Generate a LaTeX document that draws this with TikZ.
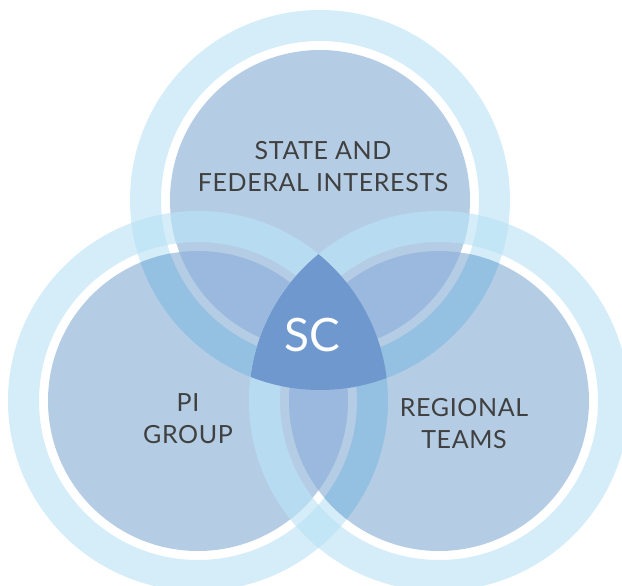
\documentclass[tikz,border=0pt]{standalone}
\usepackage{fontspec}
\setmainfont{Lato}

\definecolor{ringblue}{HTML}{D4EDF9}
\definecolor{diskblue}{HTML}{B5CDE4}
\definecolor{ringring}{HTML}{C3E6F7}
\definecolor{ringdisk}{HTML}{B7DCF1}
\definecolor{diskring}{HTML}{94C0E2}
\definecolor{diskdisk}{HTML}{9BB9DE}
\definecolor{scblue}{HTML}{6F98CF}
\definecolor{labelgray}{HTML}{404040}

% outer ring of a circle (outer radius 190, inner radius 159)
\newcommand{\ringpath}[1]{(#1) ++(190,0) arc[start angle=0,end angle=360,radius=190] (#1) ++(159,0) arc[start angle=360,end angle=0,radius=159]}

\begin{document}
\begin{tikzpicture}[x=1pt,y=1pt,yscale=-1,xscale=1,
	lbl/.style={text=labelgray, align=center, inner sep=0pt, font=\fontsize{25}{32}\selectfont\addfontfeature{LetterSpace=2.5}}]
		\useasboundingbox (0,0) rectangle (622,586);

		% Centres of the three circles
		\coordinate (stateC) at (320,200);
		\coordinate (piC) at (198,401);
		\coordinate (regionC) at (439,401);

		% Draw the light outer rings
		\fill[ringblue] \ringpath{stateC};
		\fill[ringblue] \ringpath{piC};
		\fill[ringblue] \ringpath{regionC};

		% Draw the inner discs
		\fill[diskblue] (stateC) circle[radius=150];
		\fill[diskblue] (piC) circle[radius=150];
		\fill[diskblue] (regionC) circle[radius=150];

		% Overlaps of each pair (lower circle first)
		\foreach \lo/\up in {stateC/piC, stateC/regionC, piC/regionC} {
			\begin{scope}
				\clip \ringpath{\lo};
				\fill[ringring] \ringpath{\up};
			\end{scope}
			\begin{scope}
				\clip (\lo) circle[radius=150];
				\fill[ringdisk] \ringpath{\up};
			\end{scope}
			\begin{scope}
				\clip \ringpath{\lo};
				\fill[diskring] (\up) circle[radius=150];
			\end{scope}
			\begin{scope}
				\clip (\lo) circle[radius=150];
				\fill[diskdisk] (\up) circle[radius=150];
			\end{scope}
		}

		% The centre piece where all three circles meet
		\begin{scope}
			\clip (stateC) circle[radius=190];
			\clip (piC) circle[radius=190];
			\fill[scblue] (regionC) circle[radius=190];
		\end{scope}

		% Labels
		\node (sc) at (312.5,335) [text=white, inner sep=0pt, font=\fontsize{46}{46}\selectfont] {SC};
		\node (state) at (323,166.5) [lbl] {STATE AND\\FEDERAL INTERESTS};
		\node (pi) at (188,419) [lbl] {PI\\GROUP};
		\node (regional) at (464,423.5) [lbl] {REGIONAL\\TEAMS};
	\end{tikzpicture}
\end{document}
